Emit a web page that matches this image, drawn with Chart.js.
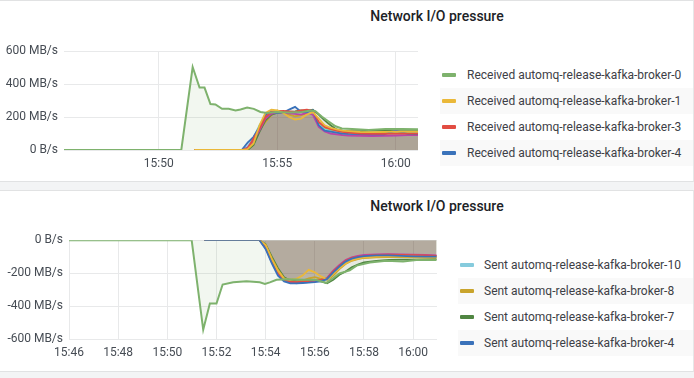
<!DOCTYPE html>
<html><head><meta charset="utf-8">
<script src="https://cdn.jsdelivr.net/npm/chart.js@4.4.1/dist/chart.umd.min.js"></script>
<style>
html,body{margin:0;padding:0;}
body{width:694px;height:378px;background:#f3f4f5;position:relative;overflow:hidden;font-family:Roboto,"Noto Sans",sans-serif;}
.panel{position:absolute;left:0;width:693px;height:180px;background:#fff;border-top:1px solid #e1e2e3;border-bottom:1px solid #e1e2e3;border-right:1px solid #e6e7e8;}
.title{position:absolute;width:300px;left:287px;text-align:center;font-size:14px;font-weight:500;color:#202226;line-height:18px;}
canvas{position:absolute;}
.lrow{position:absolute;height:26px;right:1px;}
.lrow.alt{background:#f9f9f9;}
.sw{position:absolute;width:14px;height:4px;border-radius:1px;top:11px;}
.lt{position:absolute;top:0;line-height:26px;font-size:12px;color:#3d4046;white-space:nowrap;}
</style></head>
<body>
<div class="panel" style="top:0"></div>
<div class="panel" style="top:190px"></div>
<div class="title" style="top:7px">Network I/O pressure</div>
<div class="title" style="top:197px">Network I/O pressure</div>
<canvas id="c1" width="430" height="142" style="left:0;top:38px"></canvas>
<canvas id="c2" width="447" height="142" style="left:0;top:227px"></canvas>
<div id="leg1"></div>
<div id="leg2"></div>
<script>
// time axis values are minutes after 15:46
const topXTicks = [4, 9, 14];
const topXTickLabels = ['15:50', '15:55', '16:00'];
const botXTicks = [0, 2, 4, 6, 8, 10, 12, 14];
const botXTickLabels = ['15:46', '15:48', '15:50', '15:52', '15:54', '15:56', '15:58', '16:00'];
const topYTicks = [0, 200, 400, 600];
const topYTickLabels = ['0 B/s', '200 MB/s', '400 MB/s', '600 MB/s'];
const botYTicks = [-600, -400, -200, 0];
const botYTickLabels = ['-600 MB/s', '-400 MB/s', '-200 MB/s', '0 B/s'];

// Received (MB/s), broker-0
const recv0Times = [0, 4.95, 5.43, 5.72, 5.93, 6.18, 6.39, 6.67, 6.95, 7.24, 7.45, 7.73, 8.01, 8.29, 8.57, 8.92, 9.49, 10.05, 10.4, 10.61, 10.89, 11.17, 11.46, 11.73, 12.16, 12.86, 13.57, 14.27, 14.94];
const recv0 = [0, 0, 504, 379, 379, 279, 277, 250, 250, 240, 246, 258, 250, 231, 225, 231, 228, 231, 240, 235, 202, 173, 144, 131, 127, 121, 127, 127, 126];

// shared sample times for the other brokers
const packTimes = [5.5, 7.5, 7.75, 8.0, 8.25, 8.5, 8.75, 9.0, 9.25, 9.5, 9.75, 10.0, 10.25, 10.5, 10.75, 11.0, 11.25, 11.5, 11.75, 12.0, 12.5, 13.0, 13.5, 14.0, 14.5, 14.95];
const recv1  = [0, 0, 5, 40, 150, 225, 245, 240, 225, 200, 185, 190, 215, 230, 190, 150, 135, 125, 118, 115, 110, 108, 110, 112, 112, 112];
const recv3  = [0, 0, 10, 70, 130, 200, 230, 235, 238, 235, 232, 240, 245, 238, 170, 140, 128, 118, 110, 105, 100, 98, 98, 100, 100, 100];
const recv4  = [0, 0, 45, 80, 140, 215, 232, 225, 228, 245, 262, 232, 230, 242, 150, 118, 112, 105, 100, 98, 96, 95, 95, 117, 98, 97];
const recv5  = [0, 0, 15, 60, 120, 190, 220, 228, 225, 222, 220, 215, 225, 215, 140, 112, 100, 95, 90, 88, 86, 85, 86, 88, 90, 90];
const recv6  = [0, 0, 20, 75, 150, 205, 225, 232, 230, 228, 225, 228, 232, 225, 155, 125, 115, 108, 102, 100, 98, 97, 98, 100, 101, 101];
const recv7  = [0, 0, 0, 30, 110, 180, 215, 225, 230, 232, 235, 240, 238, 245, 215, 180, 150, 125, 118, 115, 115, 118, 120, 122, 122, 122];
const recv8  = [0, 0, 8, 50, 120, 170, 210, 240, 230, 215, 205, 210, 225, 220, 160, 130, 120, 112, 108, 104, 102, 102, 104, 106, 106, 106];
const recv10 = [0, 0, 12, 65, 135, 210, 235, 238, 232, 228, 230, 236, 240, 230, 165, 135, 122, 112, 106, 102, 99, 98, 99, 101, 102, 102];

// Sent (MB/s, negative), broker-0
const sent0Times = [0, 4.99, 5.46, 5.73, 6.0, 6.25, 6.68, 7.22, 7.76, 7.97, 8.17, 8.44, 8.85, 9.53, 10.07, 10.47, 10.74, 11.0, 11.42, 11.7, 12.24, 12.91, 13.59, 14.13, 14.95];
const sent0 = [0, 0, -544, -385, -385, -269, -256, -250, -256, -265, -256, -240, -237, -240, -242, -260, -231, -202, -183, -154, -135, -125, -129, -121, -121];
const sent1  = [0, 0, 0, -30, -115, -185, -235, -240, -235, -215, -180, -195, -220, -238, -205, -170, -142, -122, -112, -105, -100, -98, -98, -100, -102, -103];
const sent3  = [0, 0, 0, -40, -125, -195, -240, -252, -255, -252, -248, -245, -240, -232, -190, -155, -125, -108, -100, -95, -90, -88, -89, -91, -93, -95];
const sent4  = [0, 0, 0, -55, -140, -215, -250, -262, -262, -260, -258, -255, -250, -235, -195, -160, -130, -112, -103, -97, -92, -92, -95, -98, -100, -100];
const sent5  = [0, 0, 0, -48, -135, -205, -245, -255, -258, -256, -252, -250, -245, -228, -185, -150, -120, -104, -96, -90, -86, -85, -86, -88, -90, -92];
const sent7  = [0, 0, 0, -25, -100, -170, -225, -245, -250, -250, -248, -245, -250, -262, -240, -210, -190, -165, -148, -135, -125, -120, -118, -118, -116, -115];
const sent8  = [0, 0, 0, -30, -110, -180, -232, -250, -255, -245, -232, -225, -235, -245, -215, -175, -145, -125, -115, -108, -104, -102, -102, -104, -106, -106];
const sent10 = [0, 0, 0, -45, -125, -195, -238, -255, -262, -258, -255, -250, -245, -240, -200, -165, -135, -115, -105, -98, -92, -90, -90, -92, -95, -96];

const colors = {
  green: '#7eb26d', yellow: '#eab839', red: '#e24d42', blue: '#3a72ba', purple: '#ba43a9',
  cyan: '#6ed0e0', dkgreen: '#508642', mustard: '#c9a42c', orange: '#ef843c', ltcyan: '#86cbdd'
};

const topSeries = [
  {name: 'Received automq-release-kafka-broker-0', color: colors.green, t: recv0Times, v: recv0, main: true},
  {name: 'Received automq-release-kafka-broker-1', color: colors.yellow, t: packTimes, v: recv1},
  {name: 'Received automq-release-kafka-broker-3', color: colors.red, t: packTimes, v: recv3},
  {name: 'Received automq-release-kafka-broker-4', color: colors.blue, t: packTimes, v: recv4},
  {name: 'Received automq-release-kafka-broker-5', color: colors.purple, t: packTimes, v: recv5},
  {name: 'Received automq-release-kafka-broker-6', color: colors.cyan, t: packTimes, v: recv6},
  {name: 'Received automq-release-kafka-broker-7', color: colors.dkgreen, t: packTimes, v: recv7},
  {name: 'Received automq-release-kafka-broker-8', color: colors.mustard, t: packTimes, v: recv8},
  {name: 'Received automq-release-kafka-broker-10', color: colors.orange, t: packTimes, v: recv10}
];
const botSeries = [
  {name: 'Sent automq-release-kafka-broker-0', color: colors.green, t: sent0Times, v: sent0, main: true},
  {name: 'Sent automq-release-kafka-broker-4', color: colors.blue, t: packTimes, v: sent4},
  {name: 'Sent automq-release-kafka-broker-1', color: colors.yellow, t: packTimes, v: sent1},
  {name: 'Sent automq-release-kafka-broker-3', color: colors.red, t: packTimes, v: sent3},
  {name: 'Sent automq-release-kafka-broker-5', color: colors.purple, t: packTimes, v: sent5},
  {name: 'Sent automq-release-kafka-broker-10', color: colors.ltcyan, t: packTimes, v: sent10},
  {name: 'Sent automq-release-kafka-broker-8', color: colors.mustard, t: packTimes, v: sent8},
  {name: 'Sent automq-release-kafka-broker-7', color: colors.dkgreen, t: packTimes, v: sent7}
];
const topLegend = [0, 1, 2, 3];
const botLegend = [5, 6, 7, 1];

function toDatasets(series) {
  return series.map(s => ({
    label: s.name,
    data: s.v.map((y, i) => ({x: s.t[i], y: y})),
    borderColor: s.color,
    backgroundColor: s.main ? 'rgba(126,178,109,0.1)' : 'rgba(112,80,70,0.095)',
    fill: 'origin',
    borderWidth: s.main ? 2 : 1.8,
    pointRadius: 0,
    tension: 0
  }));
}

const tickColor = '#464c54';
const gridColor = '#e8e9ea';
function makeChart(id, series, xmin, xmax, xt, xl, yt, yl, yw, padR) {
  return new Chart(document.getElementById(id), {
    type: 'line',
    data: {datasets: toDatasets(series)},
    options: {
      responsive: false, animation: false, devicePixelRatio: 1,
      layout: {padding: {top: 8, right: padR, left: 0, bottom: 0}},
      plugins: {legend: {display: false}, tooltip: {enabled: false}, filler: {drawTime: 'beforeDatasetsDraw'}},
      scales: {
        x: {
          type: 'linear', min: xmin, max: xmax,
          afterBuildTicks: s => { s.ticks = xt.map(v => ({value: v})); },
          afterFit: s => { s.height = 30; },
          ticks: {callback: (v, i) => xl[i], color: tickColor, font: {family: 'Roboto', size: 12}, padding: 7, maxRotation: 0, autoSkip: false},
          grid: {color: gridColor, drawTicks: false}, border: {display: false}
        },
        y: {
          min: yt[0], max: yt[yt.length - 1],
          afterBuildTicks: s => { s.ticks = yt.map(v => ({value: v})); },
          afterFit: s => { s.width = yw; },
          ticks: {callback: (v, i) => yl[i], color: tickColor, font: {family: 'Roboto', size: 12}, padding: 6},
          grid: {color: gridColor, drawTicks: false}, border: {display: false}
        }
      }
    }
  });
}
makeChart('c1', topSeries, 0, 14.94, topXTicks, topXTickLabels, topYTicks, topYTickLabels, 64, 12);
makeChart('c2', botSeries, 0, 14.97, botXTicks, botXTickLabels, botYTicks, botYTickLabels, 69, 10);

function legend(el, series, idx, left, swLeft, txtLeft, top0) {
  const box = document.getElementById(el);
  idx.forEach((k, r) => {
    const row = document.createElement('div');
    row.className = 'lrow' + (r % 2 ? ' alt' : '');
    row.style.left = left + 'px';
    row.style.top = (top0 + r * 26) + 'px';
    const sw = document.createElement('div');
    sw.className = 'sw'; sw.style.left = (swLeft - left) + 'px'; sw.style.background = series[k].color;
    const t = document.createElement('div');
    t.className = 'lt'; t.style.left = (txtLeft - left) + 'px'; t.textContent = series[k].name;
    row.appendChild(sw); row.appendChild(t); box.appendChild(row);
  });
}
legend('leg1', topSeries, topLegend, 440, 442, 467, 62);
legend('leg2', botSeries, botLegend, 458, 460, 484, 252);
</script>
</body></html>
